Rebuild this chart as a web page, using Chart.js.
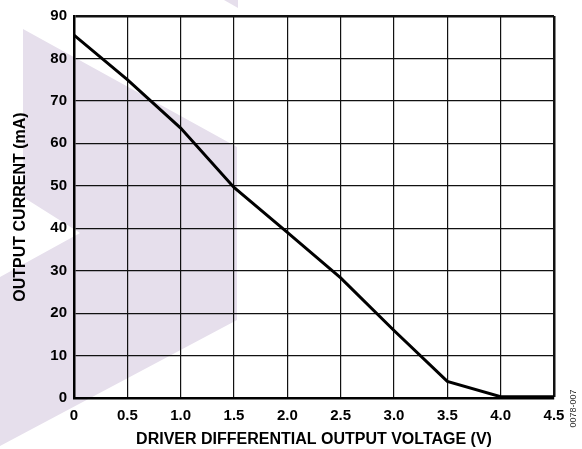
<!DOCTYPE html>
<html>
<head>
<meta charset="utf-8">
<script src="https://cdn.jsdelivr.net/npm/chart.js@4/dist/chart.umd.min.js"></script>
<style>
  html, body { margin: 0; padding: 0; background: #ffffff; }
  #wrap { width: 582px; height: 449px; position: relative; }
</style>
</head>
<body>
<div id="wrap"><canvas id="c" width="582" height="449"></canvas></div>
<script>
// ---- data ----
const voltage = [0, 0.5, 1.0, 1.5, 2.0, 2.5, 3.0, 3.5, 4.0, 4.5];
const current = [85.5, 75.0, 63.6, 49.6, 39.0, 28.3, 15.9, 3.9, 0.3, 0.3];
const xTicks = [0, 0.5, 1.0, 1.5, 2.0, 2.5, 3.0, 3.5, 4.0, 4.5];
const yTicks = [0, 10, 20, 30, 40, 50, 60, 70, 80, 90];
const xTitle = 'DRIVER DIFFERENTIAL OUTPUT VOLTAGE (V)';
const yTitle = 'OUTPUT CURRENT (mA)';
const figId = '0078-007';

const FONT = 'Arial, "Liberation Sans", Helvetica, sans-serif';
const points = voltage.map((v, i) => ({ x: v, y: current[i] }));

// decorative watermark (background logo) and figure id
const decor = {
  id: 'decor',
  beforeDraw(chart) {
    const ctx = chart.ctx;
    ctx.save();
    ctx.fillStyle = '#e6dfec';
    ctx.beginPath();
    ctx.moveTo(23, 29);
    ctx.lineTo(237, 147);
    ctx.lineTo(237, 320);
    ctx.lineTo(0, 446);
    ctx.lineTo(0, 277);
    ctx.lineTo(80, 233);
    ctx.lineTo(23, 197);
    ctx.closePath();
    ctx.fill();
    ctx.beginPath();
    ctx.moveTo(224, 0);
    ctx.lineTo(238, 0);
    ctx.lineTo(238, 8);
    ctx.closePath();
    ctx.fill();
    ctx.restore();
  },
  afterDraw(chart) {
    const ctx = chart.ctx;
    ctx.save();
    ctx.translate(573.5, 408.5);
    ctx.rotate(-Math.PI / 2);
    ctx.font = '9px ' + FONT;
    ctx.fillStyle = '#333';
    ctx.textAlign = 'center';
    ctx.textBaseline = 'middle';
    ctx.fillText(figId, 0, 0);
    ctx.restore();
  }
};

new Chart(document.getElementById('c'), {
  type: 'line',
  data: {
    datasets: [{
      data: points,
      borderColor: '#000',
      borderWidth: 3,
      pointRadius: 0,
      tension: 0,
      fill: false
    }]
  },
  options: {
    responsive: false,
    animation: false,
    devicePixelRatio: 1,
    layout: { padding: { left: 0, top: 15, right: 28, bottom: 0 } },
    plugins: { legend: { display: false }, tooltip: { enabled: false } },
    scales: {
      x: {
        type: 'linear',
        min: 0, max: 4.5,
        afterBuildTicks(s) { s.ticks = xTicks.map(v => ({ value: v })); },
        afterFit(s) { s.height = 51; },
        ticks: {
          padding: 9,
          color: '#000',
          font: { family: FONT, size: 15, weight: 'bold' },
          maxRotation: 0,
          callback: v => (v === 0 ? '0' : v.toFixed(1))
        },
        grid: {
          drawTicks: false,
          color: '#111',
          lineWidth: c => (c.tick && c.tick.value === 4.5 ? 2.5 : 1.2)
        },
        border: { display: true, color: '#000', width: 2.5 },
        title: {
          display: true,
          text: xTitle,
          color: '#000',
          padding: { top: 0, bottom: 0 },
          font: { family: FONT, size: 16, weight: 'bold' }
        }
      },
      y: {
        type: 'linear',
        min: 0, max: 90,
        afterBuildTicks(s) { s.ticks = yTicks.map(v => ({ value: v })); },
        afterFit(s) { s.width = 74; },
        ticks: {
          padding: 7,
          color: '#000',
          font: { family: FONT, size: 15, weight: 'bold' },
          callback: v => String(v)
        },
        grid: {
          drawTicks: false,
          color: '#111',
          lineWidth: c => (c.tick && c.tick.value === 90 ? 2.5 : 1.2)
        },
        border: { display: true, color: '#000', width: 2.5 },
        title: {
          display: true,
          text: yTitle,
          color: '#000',
          padding: { top: 11, bottom: 0 },
          font: { family: FONT, size: 16, weight: 'bold' }
        }
      }
    }
  },
  plugins: [decor]
});
</script>
</body>
</html>
